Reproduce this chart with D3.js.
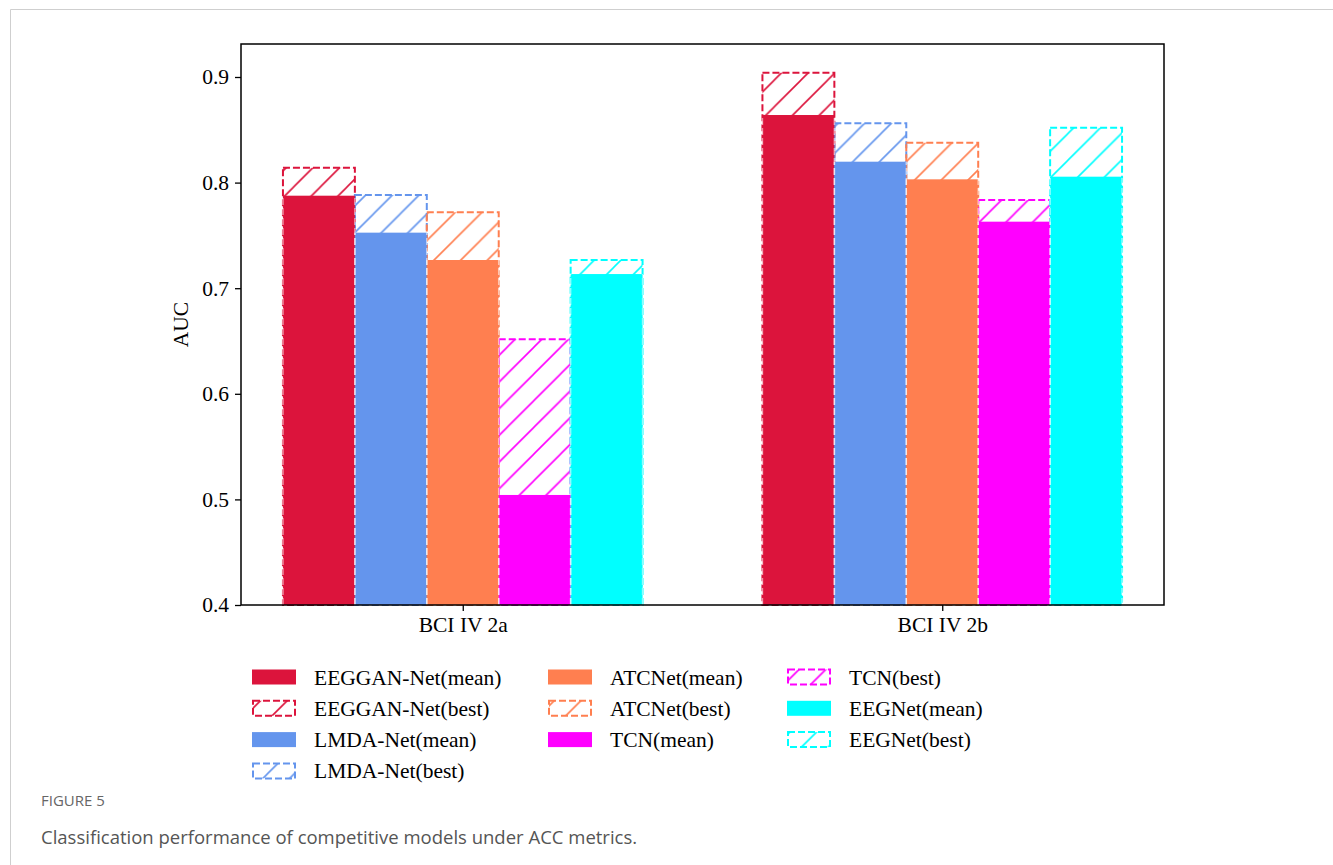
<!DOCTYPE html>
<html>
<head>
<meta charset="utf-8">
<script src="https://cdn.jsdelivr.net/npm/d3@7"></script>
<style>
  body { margin: 0; background: #fff; }
  svg { display: block; }
</style>
</head>
<body>
<svg id="chart" width="1333" height="865"></svg>
<script>
// ---------- data ----------
const groups = ["BCI IV 2a", "BCI IV 2b"];
const models = ["EEGGAN-Net", "LMDA-Net", "ATCNet", "TCN", "EEGNet"];
const colors = ["#DC143C", "#6495ED", "#FF7F50", "#FF00FF", "#00FFFF"];
const meanValues = [
  [0.7876, 0.7526, 0.7267, 0.5042, 0.7134],   // BCI IV 2a
  [0.8640, 0.8198, 0.8031, 0.7630, 0.8056]    // BCI IV 2b
];
const bestValues = [
  [0.8141, 0.7883, 0.7719, 0.6516, 0.7267],
  [0.9041, 0.8562, 0.8378, 0.7835, 0.8520]
];
const yTicks = [0.4, 0.5, 0.6, 0.7, 0.8, 0.9];
const yLabel = "AUC";
const captionTitle = "FIGURE 5";
const captionText = "Classification performance of competitive models under ACC metrics.";

// ---------- layout ----------
const svg = d3.select("#chart");
const plot = { left: 241, right: 1164, top: 44, bottom: 605 };
const barW = 0.15;

const x = d3.scaleLinear().domain([-0.4625, 1.4625]).range([plot.left, plot.right]);
const y = d3.scaleLinear().domain([0.4, 0.4 + (605 - 44) / 1056]).range([plot.bottom, plot.top]);

const serif = "'Liberation Serif', 'Times New Roman', serif";

// page frame
svg.append("path")
  .attr("d", "M10.5,865 L10.5,9.5 L1333,9.5")
  .attr("fill", "none").attr("stroke", "#cfcfcf").attr("stroke-width", 1);

// hatch patterns
const defs = svg.append("defs");
const hp = 26.7;
colors.forEach((c, i) => {
  const p = defs.append("pattern")
    .attr("id", "hatch" + i)
    .attr("patternUnits", "userSpaceOnUse")
    .attr("width", hp).attr("height", hp);
  p.append("path")
    .attr("d", `M0,${hp} L${hp},0 M${-hp/2},${hp/2} L${hp/2},${-hp/2} M${hp/2},${hp*1.5} L${hp*1.5},${hp/2}`)
    .attr("stroke", c).attr("stroke-width", 1.6).attr("fill", "none");
});

// bars
const bars = [];
groups.forEach((g, gi) => {
  models.forEach((m, mi) => {
    bars.push({ gi, mi, pos: gi + (mi - 2) * barW, mean: meanValues[gi][mi], best: bestValues[gi][mi] });
  });
});

const bw = x(barW) - x(0);
const gBars = svg.append("g");
// best bars (hatched, dashed outline)
gBars.selectAll("rect.best").data(bars).join("rect")
  .attr("class", "best")
  .attr("x", d => x(d.pos - barW / 2))
  .attr("width", bw)
  .attr("y", d => y(d.best))
  .attr("height", d => y(0.4) - y(d.best))
  .attr("fill", d => `url(#hatch${d.mi})`)
  .attr("stroke", d => colors[d.mi])
  .attr("stroke-width", 2)
  .attr("stroke-dasharray", "7,3");
// mean bars
gBars.selectAll("rect.mean").data(bars).join("rect")
  .attr("class", "mean")
  .attr("x", d => x(d.pos - barW / 2))
  .attr("width", bw)
  .attr("y", d => y(d.mean))
  .attr("height", d => y(0.4) - y(d.mean))
  .attr("fill", d => colors[d.mi]);
// faint dashed side edges over the mean bars
gBars.selectAll("path.edge").data(bars).join("path")
  .attr("class", "edge")
  .attr("d", d => {
    const x0 = x(d.pos - barW / 2), x1 = x(d.pos + barW / 2);
    return `M${x0},${y(0.4)} L${x0},${y(d.mean)} M${x1},${y(0.4)} L${x1},${y(d.mean)}`;
  })
  .attr("stroke", "#ffffff").attr("stroke-opacity", 0.55)
  .attr("stroke-width", 1.5).attr("stroke-dasharray", "7,3").attr("fill", "none");

// frame
svg.append("rect")
  .attr("x", plot.left).attr("y", plot.top)
  .attr("width", plot.right - plot.left).attr("height", plot.bottom - plot.top)
  .attr("fill", "none").attr("stroke", "#000").attr("stroke-width", 1.5);

// axes
const yAxis = svg.append("g")
  .attr("transform", `translate(${plot.left},0)`)
  .call(d3.axisLeft(y).tickValues(yTicks).tickFormat(d3.format(".1f")).tickSize(6).tickSizeOuter(0).tickPadding(6));
const xAxis = svg.append("g")
  .attr("transform", `translate(0,${plot.bottom})`)
  .call(d3.axisBottom(x).tickValues([0, 1]).tickFormat(i => groups[i]).tickSize(6).tickSizeOuter(0).tickPadding(6));
[yAxis, xAxis].forEach(a => {
  a.select(".domain").remove();
  a.selectAll(".tick line").attr("stroke", "#000").attr("stroke-width", 1.3);
  a.selectAll(".tick text").attr("font-family", serif).attr("font-size", 21.5).attr("fill", "#000");
});

svg.append("text")
  .attr("transform", `translate(188,${(plot.top + plot.bottom) / 2}) rotate(-90)`)
  .attr("text-anchor", "middle")
  .attr("font-family", serif).attr("font-size", 21.5).attr("fill", "#000")
  .text(yLabel);

// legend
const entries = [];
models.forEach((m, mi) => {
  entries.push({ label: m + "(mean)", mi, type: "mean" });
  entries.push({ label: m + "(best)", mi, type: "best" });
});
const colX = [252, 548, 787];
const colCounts = [4, 3, 3];
const rowY0 = 677, rowH = 31.3;
let k = 0;
const legend = svg.append("g");
colCounts.forEach((n, c) => {
  for (let r = 0; r < n; r++, k++) {
    const e = entries[k];
    const cy = rowY0 + r * rowH;
    const g = legend.append("g");
    if (e.type === "mean") {
      g.append("rect").attr("x", colX[c]).attr("y", cy - 7.5).attr("width", 44).attr("height", 15)
        .attr("fill", colors[e.mi]);
    } else {
      g.append("rect").attr("x", colX[c] + 1).attr("y", cy - 7.5).attr("width", 42).attr("height", 15)
        .attr("fill", `url(#hatch${e.mi})`).attr("stroke", colors[e.mi])
        .attr("stroke-width", 2).attr("stroke-dasharray", "7,3");
    }
    g.append("text").attr("x", colX[c] + 62).attr("y", cy).attr("dy", "0.35em")
      .attr("font-family", serif).attr("font-size", 21.5).attr("fill", "#000")
      .text(e.label);
  }
});

// caption
svg.append("text").attr("x", 41).attr("y", 806)
  .attr("font-family", "'Open Sans', 'Noto Sans', sans-serif").attr("font-size", 15).attr("fill", "#666")
  .text(captionTitle);
svg.append("text").attr("x", 41).attr("y", 844)
  .attr("font-family", "'Open Sans', 'Noto Sans', sans-serif").attr("font-size", 18.5).attr("fill", "#555")
  .text(captionText);
</script>
</body>
</html>
